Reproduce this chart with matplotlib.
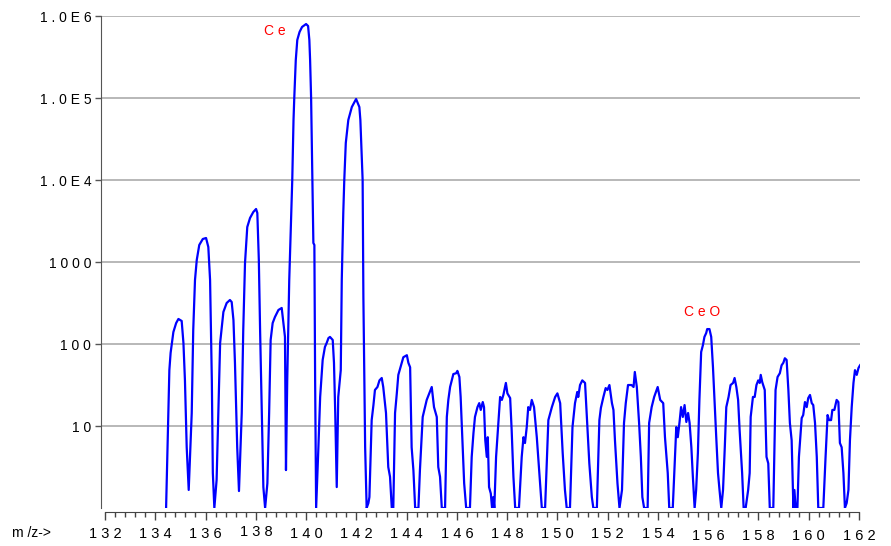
import matplotlib
matplotlib.use("Agg")
import matplotlib.pyplot as plt
from matplotlib.ticker import FixedLocator, MultipleLocator, NullFormatter
from matplotlib.transforms import blended_transform_factory

plt.rcParams['font.family'] = ['Liberation Sans', 'DejaVu Sans']

# m/z and abundance
mz = [134.43, 134.56, 134.61, 134.72, 134.83, 134.92, 135.05, 135.12, 135.18, 135.25,
      135.33, 135.45, 135.51, 135.58, 135.65, 135.75, 135.89, 136.02, 136.11, 136.18,
      136.25, 136.29, 136.35, 136.44, 136.51, 136.58, 136.71, 136.84, 136.97, 137.04,
      137.11, 137.17, 137.26, 137.33, 137.44, 137.50, 137.57, 137.66, 137.77, 137.90,
      138.01, 138.06, 138.12, 138.17, 138.24, 138.30, 138.37, 138.46, 138.53, 138.59,
      138.67, 138.76, 138.90, 139.03, 139.10, 139.16, 139.20, 139.25, 139.33, 139.39,
      139.45, 139.50, 139.53, 139.59, 139.65, 139.74, 139.84, 140.00, 140.08, 140.13, 140.16, 140.20,
      140.25, 140.29, 140.33, 140.36, 140.40, 140.49, 140.56, 140.66, 140.75, 140.82,
      140.89, 140.95, 141.06, 141.11, 141.16, 141.22, 141.28, 141.38, 141.42, 141.48,
      141.52, 141.58, 141.68, 141.82, 141.99, 142.12, 142.16, 142.25, 142.28,
      142.35, 142.41, 142.48, 142.52, 142.61, 142.68, 142.74, 142.84, 142.92, 143.01,
      143.07, 143.18, 143.27, 143.34, 143.41, 143.47, 143.54, 143.61, 143.67, 143.81,
      143.87, 144.01, 144.07, 144.14, 144.20, 144.27, 144.34, 144.47, 144.53, 144.64,
      144.73, 144.80, 144.90, 145.00, 145.09, 145.20, 145.26, 145.33, 145.40, 145.53,
      145.60, 145.66, 145.73, 145.86, 145.97, 146.02, 146.10, 146.15, 146.23, 146.29,
      146.37, 146.52, 146.59, 146.66, 146.72, 146.82, 146.89, 146.95, 147.03, 147.08,
      147.13, 147.19, 147.23, 147.28, 147.35, 147.40, 147.45, 147.49, 147.56, 147.65,
      147.72, 147.79, 147.85, 147.95, 148.01, 148.12, 148.18, 148.25, 148.32, 148.47,
      148.58, 148.65, 148.71, 148.78, 148.84, 148.91, 148.98, 149.07, 149.18, 149.28,
      149.38, 149.51, 149.64, 149.78, 149.91, 150.00, 150.11, 150.21, 150.30, 150.37,
      150.50, 150.60, 150.70, 150.79, 150.83, 150.90, 150.99, 151.10, 151.17, 151.27,
      151.37, 151.43, 151.57, 151.67, 151.73, 151.83, 151.92, 151.99, 152.07, 152.17,
      152.23, 152.29, 152.39, 152.47, 152.57, 152.65, 152.72, 152.81, 152.95, 153.03,
      153.08, 153.16, 153.25, 153.32, 153.38, 153.45, 153.59, 153.65, 153.75, 153.85,
      153.99, 154.09, 154.21, 154.28, 154.39, 154.45, 154.59, 154.65, 154.73, 154.79,
      154.86, 154.92, 154.99, 155.06, 155.13, 155.20, 155.26, 155.33, 155.39, 155.46,
      155.52, 155.59, 155.65, 155.72, 155.79, 155.85, 155.92, 155.96, 156.05, 156.12,
      156.19, 156.25, 156.32, 156.39, 156.45, 156.52, 156.59, 156.66, 156.72, 156.81,
      156.89, 156.99, 157.05, 157.12, 157.19, 157.25, 157.35, 157.41, 157.49, 157.59,
      157.65, 157.69, 157.78, 157.85, 157.92, 157.99, 158.05, 158.09, 158.15, 158.25,
      158.32, 158.39, 158.45, 158.59, 158.68, 158.76, 158.85, 158.92, 158.99, 159.05,
      159.12, 159.19, 159.25, 159.32, 159.39, 159.43, 159.48, 159.55, 159.61, 159.72,
      159.78, 159.85, 159.92, 159.98, 160.05, 160.12, 160.18, 160.25, 160.32, 160.38,
      160.58, 160.67, 160.75, 160.81, 160.89, 160.94, 161.02, 161.11, 161.18, 161.24,
      161.31, 161.38, 161.44, 161.51, 161.58, 161.64, 161.71, 161.78, 161.84, 161.91,
      161.98, 162.04, 162.08]

abundance = [1.0, 48, 78, 140, 180, 202, 191, 103, 36, 5.5,
             1.66, 14.4, 148, 603, 1058, 1612, 1907, 1962, 1524, 603,
             36, 2.67, 1.0, 2.2, 14.4, 103, 246, 316, 344, 325,
             196, 59, 5.5, 1.61, 14.4, 148, 972, 2672, 3442, 4070,
             4430, 3960, 1058, 148, 14.4, 1.8, 1.0, 2.0, 14.4, 112,
             180, 213, 260, 275, 180, 122, 2.9, 36, 603, 2455,
             10000, 53900, 100000, 290000, 510000, 638000, 735000, 798000, 755000, 510000, 290000, 100000,
             10000, 1706, 1612, 36, 1.0, 5.5, 22.6, 64, 92, 103,
             118, 122, 112, 59, 14.4, 1.8, 22.6, 48, 603, 3960,
             10000, 28300, 53900, 77600, 97200, 77600, 53900, 10000, 374,
             5.5, 1.0, 1.15, 1.36, 11.8, 18, 27.5, 29.9, 36, 38.5,
             29.9, 14.4, 3.16, 2.4, 1.0, 1.0, 14.4, 25, 42, 59,
             69, 73, 59, 52, 5.5, 2.9, 1.0, 1.0, 2.9, 12.9,
             17, 20.8, 25, 29.9, 17, 12.9, 3.16, 2.4, 1.0, 1.0,
             12.9, 20.8, 29.9, 43, 44, 47, 39.6, 22.6, 5.5, 2.0,
             1.0, 1.0, 4.2, 8.2, 12.9, 17, 19, 15.7, 19.6, 17,
             6.7, 4.2, 7.3, 1.8, 1.5, 1.0, 1.36, 1.0, 4.2, 10.9,
             22.6, 20.8, 23.9, 33.5, 25, 21.9, 8.9, 2.4, 1.0, 1.0,
             4.2, 7.3, 6.2, 9.7, 17, 15.7, 20.8, 17, 7.3, 2.67,
             1.0, 1.0, 11.8, 17, 22.6, 25, 19, 4.7, 1.66, 1.0,
             1.0, 9.7, 19, 26, 22.6, 31.6, 36, 33.5, 12.9, 3.5,
             1.36, 1.0, 1.0, 11.8, 16.6, 22.6, 29, 27.5, 31.6, 19,
             15.7, 6.7, 2.0, 1.0, 1.66, 10.9, 19, 31.6, 31.6, 29.9,
             45.6, 29.9, 10.9, 4.2, 1.36, 1.0, 1.0, 10.9, 17, 22.6,
             29.9, 20.8, 19, 7.3, 2.67, 1.0, 1.0, 2.67, 9.7, 7.3,
             11.2, 17, 12.9, 18, 11.2, 14.4, 10.9, 5.5, 2.4, 1.0,
             1.66, 4.7, 20.8, 80, 97, 122, 136, 152, 152, 122,
             52, 20.8, 7.3, 2.67, 1.66, 1.0, 1.66, 5.5, 17, 22.6,
             31.6, 33.5, 38.5, 29.9, 20.8, 8.9, 2.67, 1.0, 1.0, 1.66,
             2.67, 12.9, 22.6, 22.6, 31.6, 36, 33.5, 42, 34.3, 27.5,
             4.2, 3.5, 1.0, 1.0, 27.5, 39.6, 44, 55, 59, 67,
             64, 27.5, 10.9, 6.7, 1.0, 1.66, 1.0, 1.0, 4.2, 12.5,
             13.6, 19.6, 17, 21.9, 23.9, 19, 18, 10.9, 4.2, 1.0,
             1.0, 4.2, 13.6, 11.8, 11.8, 15.7, 15.7, 20.8, 19.6, 6.2,
             5.5, 2.67, 1.0, 1.15, 1.66, 6.7, 17, 33.5, 48, 42,
             51, 55, 57]

ytick_values = [10, 100, 1000, 1e4, 1e5, 1e6]
ytick_labels = ["1 0", "1 0 0", "1 0 0 0", "1 . 0 E 4", "1 . 0 E 5", "1 . 0 E 6"]
xtick_values = list(range(132, 163, 2))
xtick_labels = [" ".join(str(v)) for v in xtick_values]
# the printout's tick labels are not all on one baseline (pixels, + is down)
xtick_shift = {138: -1.5, 156: 3, 158: 3, 160: 3, 162: 3}

peak_labels = ["C e", "C e O"]
peak_mz = [138.77, 155.76]
peak_height = [656000, 246]

fig = plt.figure(figsize=(8.91, 5.46), dpi=100)
ax = fig.add_axes([101 / 891, 1 - 508 / 546, 759 / 891, 492 / 546])

ax.plot(mz, abundance, color='#0000ff', lw=1.6, solid_joinstyle='round')

ax.set_yscale('log')
ax.set_ylim(1, 1e6)
ax.set_xlim(131.84, 162.04)

# horizontal grid
for v in ytick_values:
    ax.axhline(v, color='#b2b2b2', lw=1.3, zorder=0)

ax.yaxis.set_major_locator(FixedLocator(ytick_values))
ax.yaxis.set_minor_locator(FixedLocator([]))
ax.set_yticklabels(ytick_labels, fontsize=10)
ax.tick_params(axis='y', direction='out', length=4, width=1, color='#555555', pad=3)

ax.xaxis.set_major_locator(FixedLocator(xtick_values))
ax.xaxis.set_minor_locator(MultipleLocator(0.4))
ax.xaxis.set_major_formatter(NullFormatter())
ax.tick_params(axis='x', which='major', direction='out', length=6, width=1, color='#444444')
ax.tick_params(axis='x', which='minor', direction='out', length=3.5, width=1, color='#444444')

# x labels placed by hand so they can wobble like the original
xlab_trans = blended_transform_factory(ax.transData, fig.transFigure)
for v, lab in zip(xtick_values, xtick_labels):
    ypix = 533.5 + xtick_shift.get(v, 0)
    ax.text(v, 1 - ypix / 546, lab, transform=xlab_trans, fontsize=10.5,
            ha='center', va='center', clip_on=False)

for s in ['top', 'right']:
    ax.spines[s].set_visible(False)
ax.spines['left'].set_color('#555555')
ax.spines['bottom'].set_color('#444444')
ax.spines['bottom'].set_position(('outward', 3))
ax.spines['bottom'].set_bounds(132, 162)

for txt, x, y in zip(peak_labels, peak_mz, peak_height):
    ax.text(x, y, txt, color='#ff0000', fontsize=10, ha='center', va='center')

fig.text(12 / 891, 1 - 533 / 546, "m /z->", fontsize=10, ha='left', va='center')

fig.savefig("out.png", dpi=100)
